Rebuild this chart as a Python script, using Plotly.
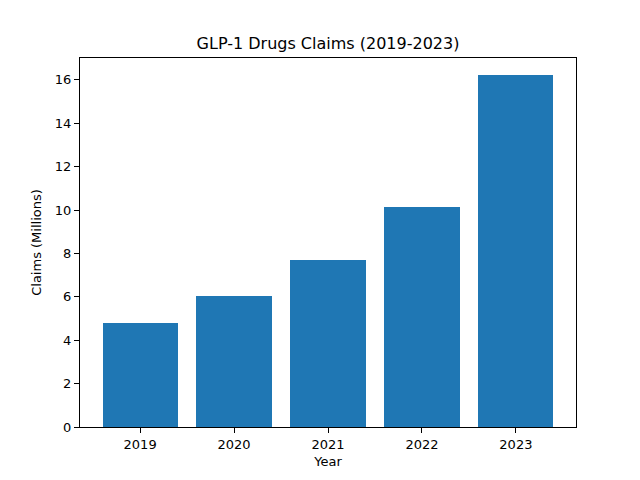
import plotly.graph_objects as go

years = ["2019", "2020", "2021", "2022", "2023"]
claims = [4.80, 6.04, 7.70, 10.14, 16.23]
y_ticks = [0, 2, 4, 6, 8, 10, 12, 14, 16]

fig = go.Figure(go.Bar(x=list(range(len(years))), y=claims, width=0.8,
                       marker=dict(color="#1f77b4", line=dict(width=0))))

font = "DejaVu Sans, sans-serif"
fig.update_layout(
    width=640, height=480,
    margin=dict(l=72, r=72, t=50, b=61),
    paper_bgcolor="white", plot_bgcolor="white",
    font=dict(family=font, size=13, color="black"),
    title=dict(text="GLP-1 Drugs Claims (2019-2023)", x=(328 - 8) / 640, xanchor="center",
               y=1 - 35/480, yanchor="middle", font=dict(size=16)),
    showlegend=False,
    bargap=0,
)
fig.update_xaxes(
    range=[-0.64, 4.64], tickmode="array", tickvals=list(range(len(years))), ticktext=years,
    showline=True, linecolor="black", linewidth=1, mirror=True,
    ticks="outside", ticklen=5, tickcolor="black", showgrid=False, zeroline=False,
    title=dict(text="Year", standoff=6, font=dict(size=13)), tickfont=dict(size=13),
)
fig.update_yaxes(
    range=[0, 17.01], tickmode="array", tickvals=y_ticks,
    showline=True, linecolor="black", linewidth=1, mirror=True,
    ticks="outside", ticklen=5, tickcolor="black", showgrid=False, zeroline=False,
    title=dict(text="Claims (Millions)", standoff=10, font=dict(size=13)), tickfont=dict(size=13),
)
fig.write_html("out.html")
